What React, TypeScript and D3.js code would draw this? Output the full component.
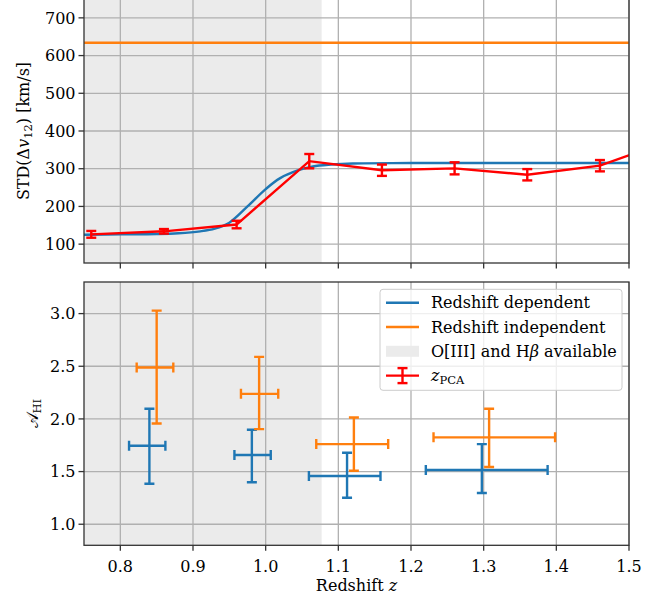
import React from 'react';
import * as d3 from 'd3';

// ---------- data ----------
const xTicks = [0.8, 0.9, 1.0, 1.1, 1.2, 1.3, 1.4, 1.5];
const xTickLabels = ['0.8', '0.9', '1.0', '1.1', '1.2', '1.3', '1.4', '1.5'];
const topYTicks = [100, 200, 300, 400, 500, 600, 700];
const botYTicks = [1.0, 1.5, 2.0, 2.5, 3.0];
const botYTickLabels = ['1.0', '1.5', '2.0', '2.5', '3.0'];
const shadeRange = [0.75, 1.077];

// top panel
const independentLevel = 634;
const dependentCurveZ = [0.75, 0.80, 0.85, 0.88, 0.91, 0.93, 0.95, 0.975, 1.0, 1.02, 1.045, 1.065, 1.09, 1.12, 1.2, 1.5];
const dependentCurveV = [125, 126, 127, 129, 134, 141, 157, 200, 246, 275, 296, 306, 311, 314, 315, 315];
const pcaZ = [0.76, 0.86, 0.96, 1.06, 1.16, 1.26, 1.36, 1.46, 1.56];
const pcaV = [126, 134, 152, 320, 296, 301, 284, 308, 377];
const pcaErr = [9, 6, 10, 19, 15, 16, 15, 15, 15];

// bottom panel
const depZ = [0.840, 0.981, 1.112, 1.2975];
const depZLo = [0.812, 0.957, 1.0595, 1.2204];
const depZHi = [0.862, 1.007, 1.158, 1.388];
const depA = [1.745, 1.657, 1.458, 1.515];
const depALo = [1.385, 1.398, 1.252, 1.297];
const depAHi = [2.096, 1.897, 1.679, 1.761];

const indZ = [0.850, 0.991, 1.1214, 1.3075];
const indZLo = [0.8225, 0.966, 1.0696, 1.231];
const indZHi = [0.8729, 1.0173, 1.1686, 1.3983];
const indA = [2.488, 2.238, 1.761, 1.825];
const indALo = [1.957, 1.903, 1.508, 1.543];
const indAHi = [3.028, 2.589, 2.014, 2.096];

// ---------- style ----------
const FONT = "'DejaVu Serif', serif";
const FS = 16;
const BLUE = '#1f77b4';
const ORANGE = '#ff7f0e';
const RED = '#ff0000';
const SHADE = '#ebebeb';
const GRID = '#b0b0b0';
const SPINE = '#333333';
const LW = 2.4;
const CAP = 5;

const L = 84, R = 629;
const TOP0 = -1, TOP1 = 263;
const BOT0 = 282, BOT1 = 545.3;

export default function App() {
  const x = d3.scaleLinear().domain([0.75, 1.5]).range([L, R]);
  const yTop = d3.scaleLinear().domain([50, 750]).range([TOP1, TOP0]);
  const yBot = d3.scaleLinear().domain([0.8, 3.3]).range([BOT1, BOT0]);

  const curveLine = d3.line<number>()
    .x((_, i) => x(dependentCurveZ[i]))
    .y((d) => yTop(d))
    .curve(d3.curveCatmullRom.alpha(0.5));
  const pcaLine = d3.line<number>()
    .x((_, i) => x(pcaZ[i]))
    .y((d) => yTop(d));

  const panelFrame = (y0: number, y1: number, yTicks: number[], yScale: any, key: string) => (
    <g key={key}>
      <rect x={x(shadeRange[0])} y={y0} width={x(shadeRange[1]) - x(shadeRange[0])} height={y1 - y0} fill={SHADE} />
      {xTicks.map((t) => (
        <line key={'gx' + t} x1={x(t)} x2={x(t)} y1={y0} y2={y1} stroke={GRID} strokeWidth={1.3} />
      ))}
      {yTicks.map((t) => (
        <line key={'gy' + t} x1={L} x2={R} y1={yScale(t)} y2={yScale(t)} stroke={GRID} strokeWidth={1.3} />
      ))}
    </g>
  );

  const axesOverlay = (y0: number, y1: number, yTicks: number[], yScale: any, yLabels: string[], showX: boolean, key: string) => (
    <g key={key} fontFamily={FONT} fontSize={FS} fill="#000">
      <rect x={L} y={y0} width={R - L} height={y1 - y0} fill="none" stroke={SPINE} strokeWidth={1.3} />
      {xTicks.map((t, i) => (
        <g key={'tx' + t}>
          <line x1={x(t)} x2={x(t)} y1={y1} y2={y1 + 5.5} stroke={SPINE} strokeWidth={1.3} />
          {showX && (
            <text x={x(t)} y={571.5} textAnchor="middle">{xTickLabels[i]}</text>
          )}
        </g>
      ))}
      {yTicks.map((t, i) => (
        <g key={'ty' + t}>
          <line x1={L - 5.5} x2={L} y1={yScale(t)} y2={yScale(t)} stroke={SPINE} strokeWidth={1.3} />
          <text x={L - 8.5} y={yScale(t)} dy="0.36em" textAnchor="end">{yLabels[i]}</text>
        </g>
      ))}
    </g>
  );

  const errBar = (cx: number, cy: number, xlo: number, xhi: number, ylo: number, yhi: number, color: string, key: string) => (
    <g key={key} stroke={color} strokeWidth={LW} fill="none">
      <line x1={x(xlo)} x2={x(xhi)} y1={yBot(cy)} y2={yBot(cy)} />
      <line x1={x(xlo)} x2={x(xlo)} y1={yBot(cy) - CAP} y2={yBot(cy) + CAP} />
      <line x1={x(xhi)} x2={x(xhi)} y1={yBot(cy) - CAP} y2={yBot(cy) + CAP} />
      <line x1={x(cx)} x2={x(cx)} y1={yBot(ylo)} y2={yBot(yhi)} />
      <line x1={x(cx) - CAP} x2={x(cx) + CAP} y1={yBot(ylo)} y2={yBot(ylo)} />
      <line x1={x(cx) - CAP} x2={x(cx) + CAP} y1={yBot(yhi)} y2={yBot(yhi)} />
    </g>
  );

  const legX = 380, legY = 289.3, legW = 242, legH = 101;
  const rowY = [302.7, 327, 351.3, 375.6];
  const hx0 = 386, hx1 = 419, tx = 431;

  return (
    <svg width={668} height={599} style={{ position: 'absolute', left: 0, top: 0, background: '#fff' }}>
      <defs>
        <clipPath id="clipTop"><rect x={L} y={TOP0} width={R - L} height={TOP1 - TOP0} /></clipPath>
        <clipPath id="clipBot"><rect x={L} y={BOT0} width={R - L} height={BOT1 - BOT0} /></clipPath>
      </defs>
      <rect x={0} y={0} width={668} height={599} fill="#fff" />

      {/* top panel */}
      {panelFrame(TOP0, TOP1, topYTicks, yTop, 'ft')}
      <g clipPath="url(#clipTop)">
        <line x1={L} x2={R} y1={yTop(independentLevel)} y2={yTop(independentLevel)} stroke={ORANGE} strokeWidth={LW} />
        <path d={curveLine(dependentCurveV) || ''} fill="none" stroke={BLUE} strokeWidth={LW} />
        <path d={pcaLine(pcaV) || ''} fill="none" stroke={RED} strokeWidth={LW} />
        {pcaZ.map((z, i) => (
          <g key={'pe' + i} stroke={RED} strokeWidth={LW}>
            <line x1={x(z)} x2={x(z)} y1={yTop(pcaV[i] - pcaErr[i])} y2={yTop(pcaV[i] + pcaErr[i])} />
            <line x1={x(z) - CAP} x2={x(z) + CAP} y1={yTop(pcaV[i] - pcaErr[i])} y2={yTop(pcaV[i] - pcaErr[i])} />
            <line x1={x(z) - CAP} x2={x(z) + CAP} y1={yTop(pcaV[i] + pcaErr[i])} y2={yTop(pcaV[i] + pcaErr[i])} />
          </g>
        ))}
      </g>
      {axesOverlay(TOP0, TOP1, topYTicks, yTop, topYTicks.map(String), false, 'at')}

      {/* bottom panel */}
      {panelFrame(BOT0, BOT1, botYTicks, yBot, 'fb')}
      <g clipPath="url(#clipBot)">
        {depZ.map((z, i) => errBar(z, depA[i], depZLo[i], depZHi[i], depALo[i], depAHi[i], BLUE, 'd' + i))}
        {indZ.map((z, i) => errBar(z, indA[i], indZLo[i], indZHi[i], indALo[i], indAHi[i], ORANGE, 'o' + i))}
      </g>
      {axesOverlay(BOT0, BOT1, botYTicks, yBot, botYTickLabels, true, 'ab')}

      {/* legend */}
      <g fontFamily={FONT} fontSize={FS}>
        <rect x={legX} y={legY} width={legW} height={legH} rx={3} ry={3} fill="#fff" fillOpacity={0.8} stroke="#cccccc" strokeWidth={1} />
        <line x1={hx0} x2={hx1} y1={rowY[0]} y2={rowY[0]} stroke={BLUE} strokeWidth={LW} />
        <text x={tx} y={rowY[0] + 5.5}>Redshift dependent</text>
        <line x1={hx0} x2={hx1} y1={rowY[1]} y2={rowY[1]} stroke={ORANGE} strokeWidth={LW} />
        <text x={tx} y={rowY[1] + 5.5}>Redshift independent</text>
        <rect x={hx0} y={rowY[2] - 5.5} width={hx1 - hx0} height={11} fill={SHADE} />
        <text x={tx} y={rowY[2] + 5.5}>O[III] and H<tspan fontStyle="italic">β</tspan> available</text>
        <g stroke={RED} strokeWidth={LW}>
          <line x1={hx0} x2={hx1} y1={rowY[3]} y2={rowY[3]} />
          <line x1={(hx0 + hx1) / 2} x2={(hx0 + hx1) / 2} y1={rowY[3] - 7.5} y2={rowY[3] + 7.5} />
          <line x1={(hx0 + hx1) / 2 - CAP} x2={(hx0 + hx1) / 2 + CAP} y1={rowY[3] - 7.5} y2={rowY[3] - 7.5} />
          <line x1={(hx0 + hx1) / 2 - CAP} x2={(hx0 + hx1) / 2 + CAP} y1={rowY[3] + 7.5} y2={rowY[3] + 7.5} />
        </g>
        <text x={tx} y={rowY[3] + 5.5}><tspan fontStyle="italic">z</tspan><tspan fontSize={11.5} dy={3}>PCA</tspan></text>
      </g>

      {/* axis labels */}
      <g fontFamily={FONT} fontSize={FS}>
        <text x={(L + R) / 2} y={591} textAnchor="middle">Redshift <tspan fontStyle="italic">z</tspan></text>
        <text transform={`translate(29, ${(TOP0 + TOP1) / 2}) rotate(-90)`} textAnchor="middle">
          STD(Δ<tspan fontStyle="italic">v</tspan><tspan fontSize={11.5} dy={3}>12</tspan><tspan dy={-3}>) [km/s]</tspan>
        </text>
        <text transform={`translate(38, ${(BOT0 + BOT1) / 2}) rotate(-90)`} textAnchor="middle">
          <tspan>𝒜</tspan><tspan fontSize={11.5} dy={3}>HI</tspan>
        </text>
      </g>
    </svg>
  );
}
